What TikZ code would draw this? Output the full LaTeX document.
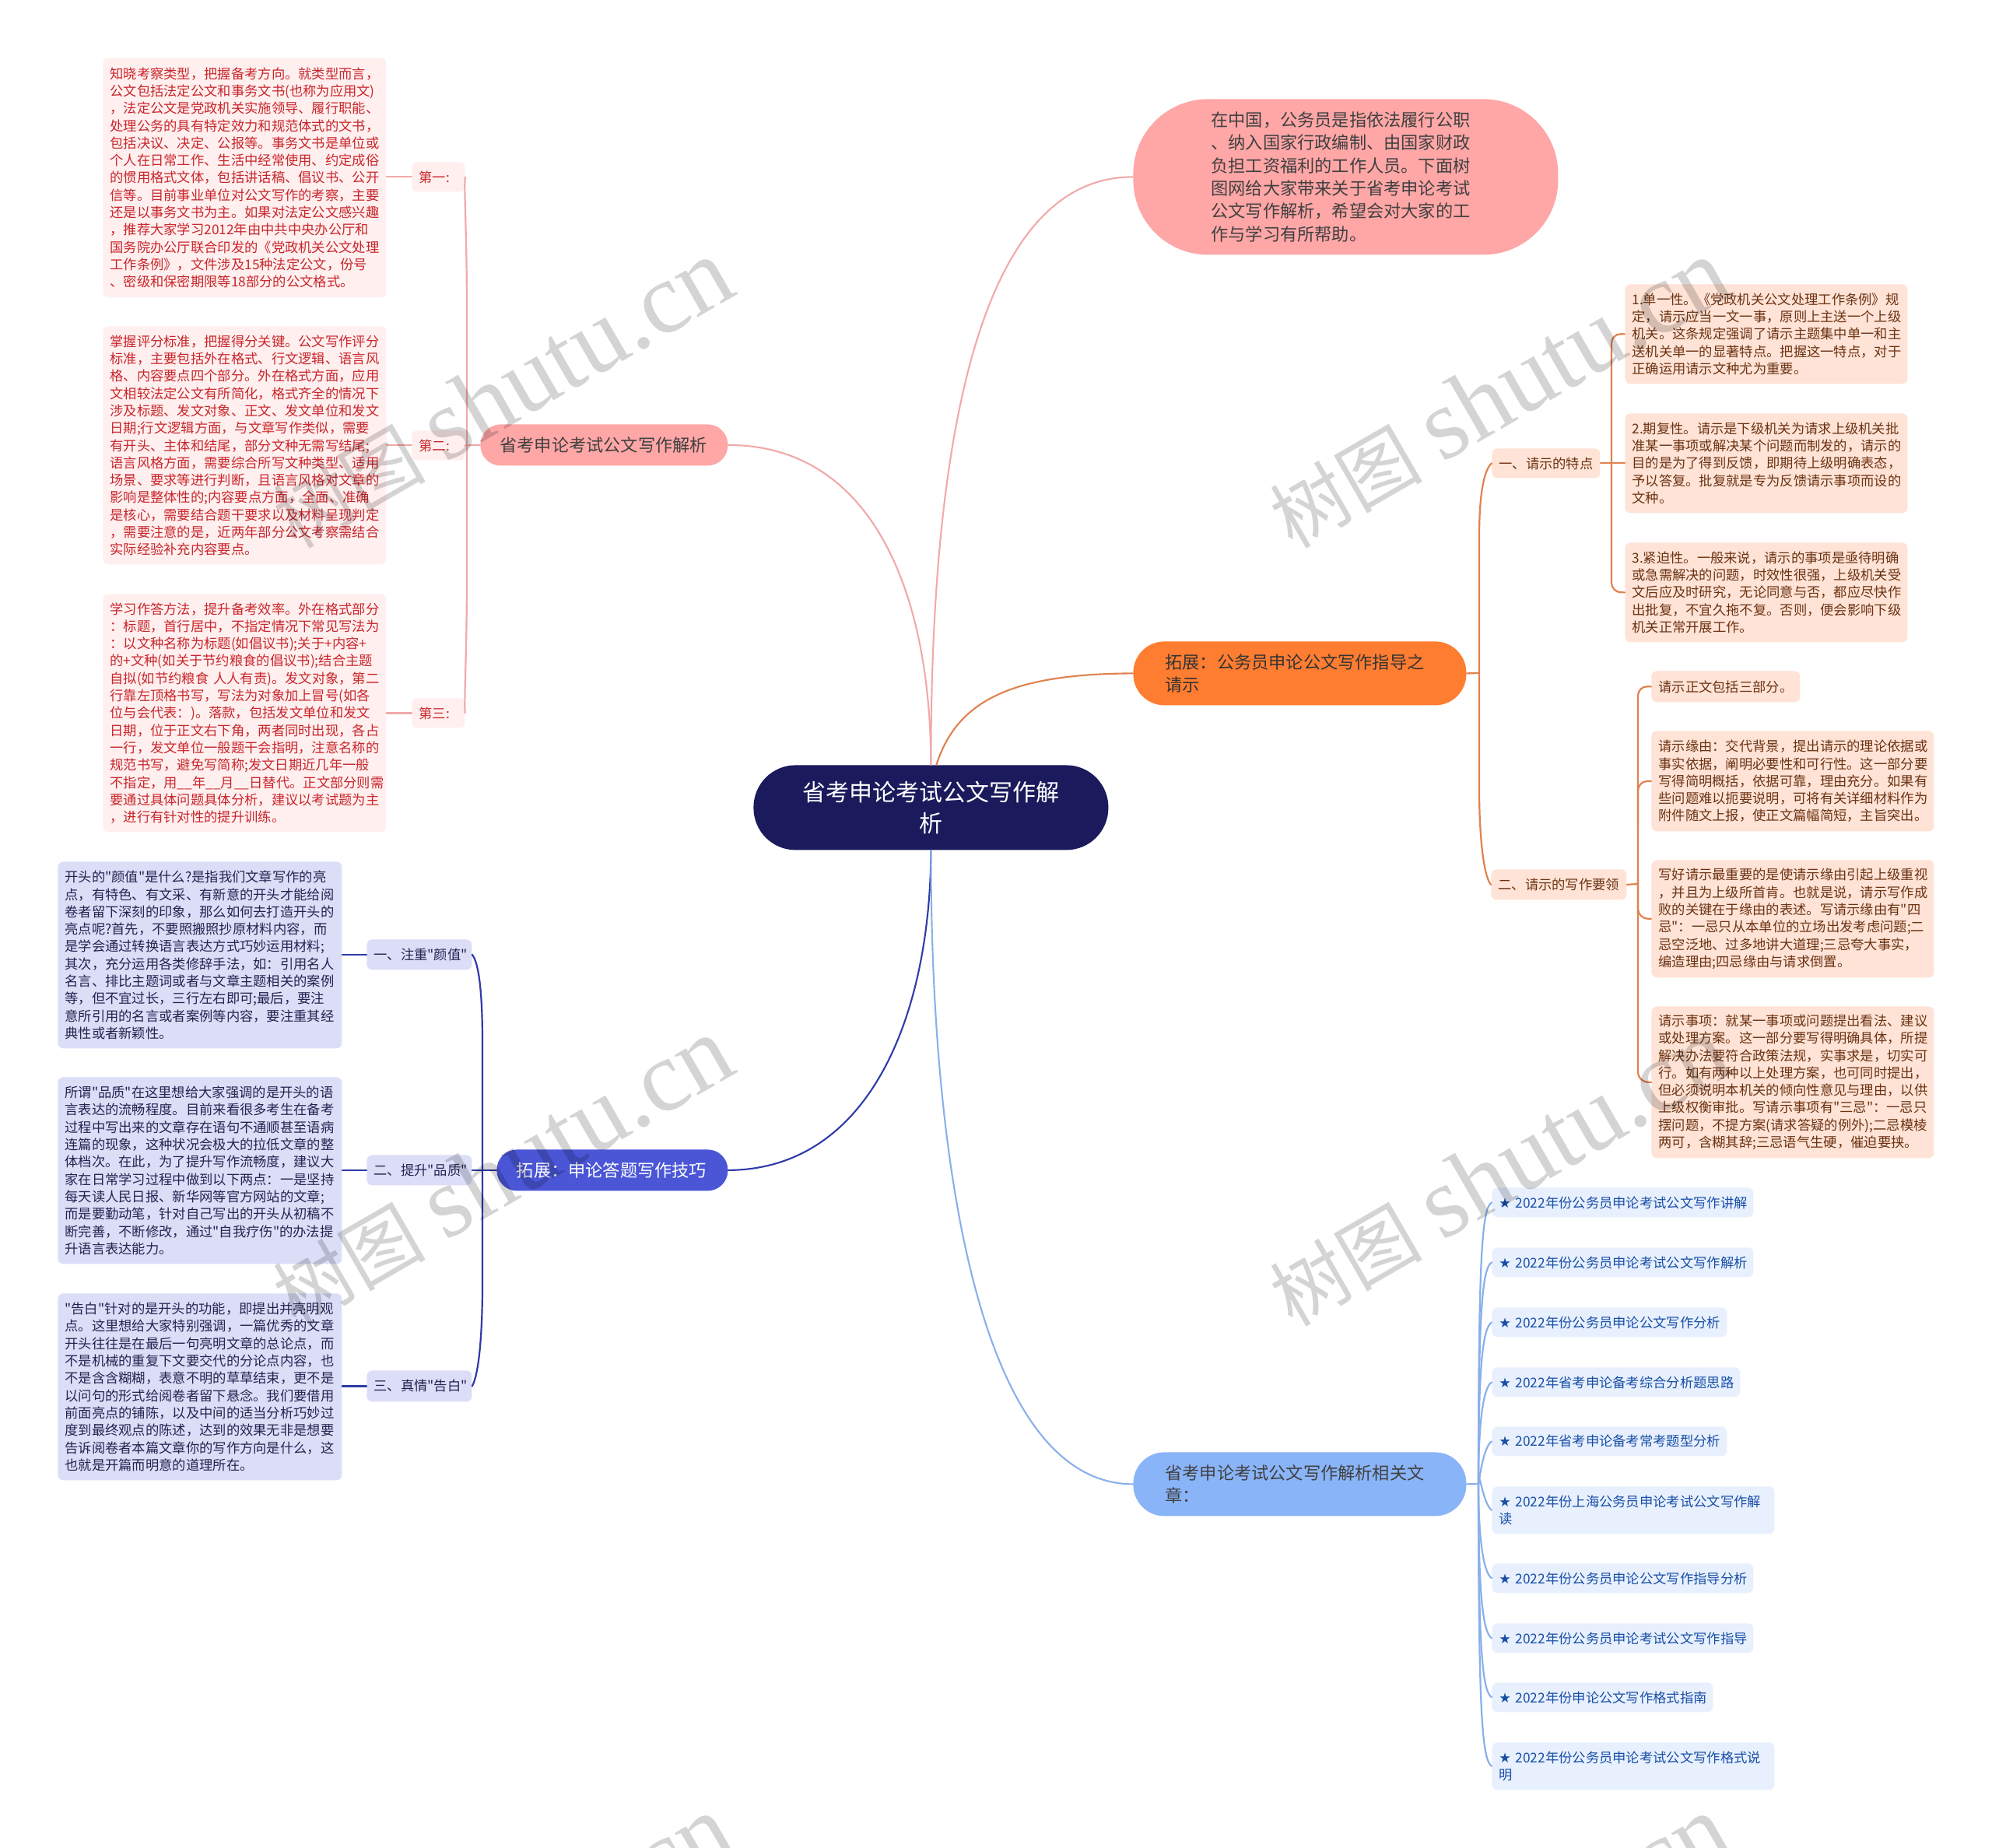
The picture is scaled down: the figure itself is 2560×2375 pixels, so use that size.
\documentclass[tikz,border=0pt]{standalone}
\usepackage{fontspec}
\setmainfont{Noto Sans CJK SC}[Ligatures=TeXOff]
\newfontfamily\wmcjk{Noto Sans CJK SC}
\newfontfamily\wmlat{Liberation Serif}
\newfontfamily\starfont{DejaVu Sans}
\usetikzlibrary{calc}
\definecolor{rootc}{HTML}{1A1A5C}
\definecolor{introc}{HTML}{FFA6A6}
\definecolor{pinkline}{HTML}{F2A9A9}
\definecolor{pinkbg}{HTML}{FFF0EF}
\definecolor{pinktx}{HTML}{C9252B}
\definecolor{navyb}{HTML}{4A56D6}
\definecolor{navyline}{HTML}{2F3BA8}
\definecolor{navybg}{HTML}{DCDEF8}
\definecolor{navytx}{HTML}{23234F}
\definecolor{orb}{HTML}{FF7D31}
\definecolor{orline}{HTML}{E0824F}
\definecolor{orbg}{HTML}{FFE3D6}
\definecolor{ortx}{HTML}{6B3212}
\definecolor{blb}{HTML}{8AB4F8}
\definecolor{blline}{HTML}{8AB0EA}
\definecolor{blbg}{HTML}{E8F0FE}
\definecolor{bltx}{HTML}{174EA6}
\tikzset{
  px/.style={x=0.5pt,y=-0.5pt},
  sz/.style 2 args={minimum width=#1*0.5pt,minimum height=#2*0.5pt,text width=(#1-18)*0.5pt},
  base/.style={anchor=north west,inner xsep=4.5pt,inner ysep=0pt,align=left,rounded corners=3.5pt},
  small/.style={font=\fontsize{8.65pt}{11.15pt}\selectfont},
  detailpink/.style={base,small,fill=pinkbg,text=pinktx},
  detailnavy/.style={base,small,fill=navybg,text=navytx},
  detailor/.style={base,small,fill=orbg,text=ortx},
  detailbl/.style={base,small,fill=blbg,text=bltx},
  roottx/.style={font=\fontsize{15pt}{20pt}\selectfont},
  midtx/.style={font=\fontsize{11.1pt}{14.7pt}\selectfont},
  lnk/.style={line width=1.1pt,line cap=round},
  lnkthin/.style={line width=1.05pt,line cap=round},
  wm/.style={rotate=30,anchor=center,text=black,opacity=0.17}
}
\newcommand{\wmtext}{{\fontsize{49pt}{60pt}\selectfont\wmcjk 树图}\hspace{13pt}{\fontsize{65pt}{60pt}\selectfont\wmlat shutu.cn}}
\newcommand{\stk}{{\starfont ★} }
\begin{document}
\begin{tikzpicture}[px]
\useasboundingbox (0,0) rectangle (2560,2375);
\clip (0,0) rectangle (2560,2375);
\fill[white] (0,0) rectangle (2560,2375);

% main nodes
\node[base,roottx,sz={456}{109},fill=rootc,text=white,align=center,rounded corners=27pt] (root) at (968,983) {省考申论考试公文写作解\\析};
\node[base,midtx,sz={546}{200},fill=introc,text=black!75,rounded corners=48pt,inner xsep=50pt,text width=173pt] (intro) at (1456,127) {在中国，公务员是指依法履行公职\\、纳入国家行政编制、由国家财政\\负担工资福利的工作人员。下面树\\图网给大家带来关于省考申论考试\\公文写作解析，希望会对大家的工\\作与学习有所帮助。};
\node[base,midtx,sz={318}{53},fill=introc,text=black!75,rounded corners=13pt,inner xsep=12.5pt,text width=134pt] (bp) at (617,545) {省考申论考试公文写作解析};
\node[base,midtx,sz={297}{53},fill=navyb,text=white,rounded corners=13pt,inner xsep=12.5pt,text width=123pt] (bn) at (638,1477) {拓展：申论答题写作技巧};
\node[base,midtx,sz={428}{82},fill=orb,text=black!80,rounded corners=20pt,inner xsep=20.5pt,text width=173pt] (bo) at (1456,824) {拓展：公务员申论公文写作指导之\\请示};
\node[base,midtx,sz={428}{82},fill=blb,text=black!75,rounded corners=20pt,inner xsep=20.5pt,text width=173pt] (bb) at (1456,1866) {省考申论考试公文写作解析相关文\\章：};

% pink details
\node[detailpink,sz={364}{308}] (p1) at (132,74) {知晓考察类型，把握备考方向。就类型而言，\\公文包括法定公文和事务文书(也称为应用文)\\，法定公文是党政机关实施领导、履行职能、\\处理公务的具有特定效力和规范体式的文书，\\包括决议、决定、公报等。事务文书是单位或\\个人在日常工作、生活中经常使用、约定成俗\\的惯用格式文体，包括讲话稿、倡议书、公开\\信等。目前事业单位对公文写作的考察，主要\\还是以事务文书为主。如果对法定公文感兴趣\\，推荐大家学习2012年由中共中央办公厅和\\国务院办公厅联合印发的《党政机关公文处理\\工作条例》，文件涉及15种法定公文，份号\\、密级和保密期限等18部分的公文格式。};
\node[detailpink,sz={364}{306}] (p2) at (132,419) {掌握评分标准，把握得分关键。公文写作评分\\标准，主要包括外在格式、行文逻辑、语言风\\格、内容要点四个部分。外在格式方面，应用\\文相较法定公文有所简化，格式齐全的情况下\\涉及标题、发文对象、正文、发文单位和发文\\日期;行文逻辑方面，与文章写作类似，需要\\有开头、主体和结尾，部分文种无需写结尾;\\语言风格方面，需要综合所写文种类型、适用\\场景、要求等进行判断，且语言风格对文章的\\影响是整体性的;内容要点方面，全面、准确\\是核心，需要结合题干要求以及材料呈现判定\\，需要注意的是，近两年部分公文考察需结合\\实际经验补充内容要点。};
\node[detailpink,sz={364}{306}] (p3) at (132,763) {学习作答方法，提升备考效率。外在格式部分\\：标题，首行居中，不指定情况下常见写法为\\：以文种名称为标题(如倡议书);关于+内容+\\的+文种(如关于节约粮食的倡议书);结合主题\\自拟(如节约粮食~人人有责)。发文对象，第二\\行靠左顶格书写，写法为对象加上冒号(如各\\位与会代表：)。落款，包括发文单位和发文\\日期，位于正文右下角，两者同时出现，各占\\一行，发文单位一般题干会指明，注意名称的\\规范书写，避免写简称;发文日期近几年一般\\不指定，用\_\_年\_\_月\_\_日替代。正文部分则需\\要通过具体问题具体分析，建议以考试题为主\\，进行有针对性的提升训练。};
\node[detailpink,sz={55}{38},inner xsep=4.5pt,text width=25pt,rounded corners=3pt] (l1) at (529,208) {第一:};
\node[detailpink,sz={55}{38},inner xsep=4.5pt,text width=25pt,rounded corners=3pt] (l2) at (529,553) {第二:};
\node[detailpink,sz={55}{38},inner xsep=4.5pt,text width=25pt,rounded corners=3pt] (l3) at (529,897) {第三:};

% navy details
\node[detailnavy,sz={365}{240}] (n1) at (74,1107) {开头的"颜值"是什么?是指我们文章写作的亮\\点，有特色、有文采、有新意的开头才能给阅\\卷者留下深刻的印象，那么如何去打造开头的\\亮点呢?首先，不要照搬照抄原材料内容，而\\是学会通过转换语言表达方式巧妙运用材料;\\其次，充分运用各类修辞手法，如：引用名人\\名言、排比主题词或者与文章主题相关的案例\\等，但不宜过长，三行左右即可;最后，要注\\意所引用的名言或者案例等内容，要注重其经\\典性或者新颖性。};
\node[detailnavy,sz={365}{240}] (n2) at (74,1384) {所谓"品质"在这里想给大家强调的是开头的语\\言表达的流畅程度。目前来看很多考生在备考\\过程中写出来的文章存在语句不通顺甚至语病\\连篇的现象，这种状况会极大的拉低文章的整\\体档次。在此，为了提升写作流畅度，建议大\\家在日常学习过程中做到以下两点：一是坚持\\每天读人民日报、新华网等官方网站的文章;\\而是要勤动笔，针对自己写出的开头从初稿不\\断完善，不断修改，通过"自我疗伤"的办法提\\升语言表达能力。};
\node[detailnavy,sz={365}{240}] (n3) at (74,1662) {"告白"针对的是开头的功能，即提出并亮明观\\点。这里想给大家特别强调，一篇优秀的文章\\开头往往是在最后一句亮明文章的总论点，而\\不是机械的重复下文要交代的分论点内容，也\\不是含含糊糊，表意不明的草草结束，更不是\\以问句的形式给阅卷者留下悬念。我们要借用\\前面亮点的铺陈，以及中间的适当分析巧妙过\\度到最终观点的陈述，达到的效果无非是想要\\告诉阅卷者本篇文章你的写作方向是什么，这\\也就是开篇而明意的道理所在。};
\node[detailnavy,sz={135}{39},text width=58.5pt] (m1) at (471,1207) {一、注重"颜值"};
\node[detailnavy,sz={135}{39},text width=58.5pt] (m2) at (471,1484) {二、提升"品质"};
\node[detailnavy,sz={135}{40},text width=58.5pt] (m3) at (471,1761) {三、真情"告白"};

% orange details
\node[detailor,sz={363}{128}] (o1) at (2088,365) {1.单一性。《党政机关公文处理工作条例》规\\定，请示应当一文一事，原则上主送一个上级\\机关。这条规定强调了请示主题集中单一和主\\送机关单一的显著特点。把握这一特点，对于\\正确运用请示文种尤为重要。};
\node[detailor,sz={363}{128}] (o2) at (2088,531) {2.期复性。请示是下级机关为请求上级机关批\\准某一事项或解决某个问题而制发的，请示的\\目的是为了得到反馈，即期待上级明确表态，\\予以答复。批复就是专为反馈请示事项而设的\\文种。};
\node[detailor,sz={363}{128}] (o3) at (2088,697) {3.紧迫性。一般来说，请示的事项是亟待明确\\或急需解决的问题，时效性很强，上级机关受\\文后应及时研究，无论同意与否，都应尽快作\\出批复，不宜久拖不复。否则，便会影响下级\\机关正常开展工作。};
\node[detailor,sz={138}{38},text width=60.5pt] (ol1) at (1917,576) {一、请示的特点};
\node[detailor,sz={173}{39},text width=78pt] (ol2) at (1916,1117) {二、请示的写作要领};
\node[detailor,sz={190}{40},text width=86.5pt] (q0) at (2122,862) {请示正文包括三部分。};
\node[detailor,sz={363}{129}] (q1) at (2122,939) {请示缘由：交代背景，提出请示的理论依据或\\事实依据，阐明必要性和可行性。这一部分要\\写得简明概括，依据可靠，理由充分。如果有\\些问题难以扼要说明，可将有关详细材料作为\\附件随文上报，使正文篇幅简短，主旨突出。};
\node[detailor,sz={363}{151}] (q2) at (2122,1105) {写好请示最重要的是使请示缘由引起上级重视\\，并且为上级所首肯。也就是说，请示写作成\\败的关键在于缘由的表述。写请示缘由有"四\\忌"：一忌只从本单位的立场出发考虑问题;二\\忌空泛地、过多地讲大道理;三忌夸大事实，\\编造理由;四忌缘由与请求倒置。};
\node[detailor,sz={363}{195}] (q3) at (2122,1293) {请示事项：就某一事项或问题提出看法、建议\\或处理方案。这一部分要写得明确具体，所提\\解决办法要符合政策法规，实事求是，切实可\\行。如有两种以上处理方案，也可同时提出，\\但必须说明本机关的倾向性意见与理由，以供\\上级权衡审批。写请示事项有"三忌"：一忌只\\摆问题，不提方案(请求答疑的例外);二忌模棱\\两可，含糊其辞;三忌语气生硬，催迫要挟。};

% blue items
\node[detailbl,sz={336}{38}] (b1) at (1917,1526) {\mbox{\stk 2022年份公务员申论考试公文写作讲解}};
\node[detailbl,sz={336}{38}] (b2) at (1917,1603) {\mbox{\stk 2022年份公务员申论考试公文写作解析}};
\node[detailbl,sz={302}{38}] (b3) at (1917,1680) {\mbox{\stk 2022年份公务员申论公文写作分析}};
\node[detailbl,sz={319}{38}] (b4) at (1917,1757) {\mbox{\stk 2022年省考申论备考综合分析题思路}};
\node[detailbl,sz={302}{38}] (b5) at (1917,1833) {\mbox{\stk 2022年省考申论备考常考题型分析}};
\node[detailbl,sz={363}{61}] (b6) at (1917,1910) {\mbox{\stk 2022年份上海公务员申论考试公文写作解}\\读};
\node[detailbl,sz={336}{38}] (b7) at (1917,2009) {\mbox{\stk 2022年份公务员申论公文写作指导分析}};
\node[detailbl,sz={336}{38}] (b8) at (1917,2086) {\mbox{\stk 2022年份公务员申论考试公文写作指导}};
\node[detailbl,sz={284}{38}] (b9) at (1917,2162) {\mbox{\stk 2022年份申论公文写作格式指南}};
\node[detailbl,sz={363}{61}] (b10) at (1917,2239) {\mbox{\stk 2022年份公务员申论考试公文写作格式说}\\明};

% connectors from the root
\draw[lnkthin,pinkline] (root.north) .. controls (1196,760) and (1120,572) .. (bp.east);
\draw[lnkthin,pinkline] (root.north) .. controls (1196,560) and (1260,227) .. (intro.west);
\draw[lnkthin,orline] ($(root.north)+(7,0)$) .. controls (1230,900) and (1300,866) .. (bo.west);
\draw[lnkthin,navyline] (root.south) .. controls (1196,1300) and (1120,1503) .. (bn.east);
\draw[lnkthin,blline] (root.south) .. controls (1196,1500) and (1260,1907) .. (bb.west);

% pink tree
\draw[lnk,pinkline] (l1.east) .. controls (596,240) and (600,300) .. (600,400) -- (600,740) .. controls (600,840) and (596,905) .. (l3.east);
\draw[lnk,pinkline] (bp.west) -- (l2.east);
\draw[lnk,pinkline] (l1.west) -- (p1.east |- l1.west);
\draw[lnk,pinkline] (l2.west) -- (p2.east |- l2.west);
\draw[lnk,pinkline] (l3.west) -- (p3.east |- l3.west);

% navy tree
\draw[lnk,navyline] (m1.east) .. controls (616,1238) and (620,1280) .. (620,1340) -- (620,1650) .. controls (620,1710) and (616,1765) .. (m3.east);
\draw[lnk,navyline] (bn.west) -- (m2.east);
\draw[lnk,navyline] (m1.west) -- (n1.east |- m1.west);
\draw[lnk,navyline] (m2.west) -- (n2.east |- m2.west);
\draw[lnk,navyline] (m3.west) -- (n3.east |- m3.west);

% orange tree
\draw[lnk,orline] (bo.east) -- (1901,865);
\draw[lnk,orline] (ol1.west) .. controls (1906,605) and (1901,640) .. (1901,690) -- (1901,1015) .. controls (1901,1070) and (1906,1125) .. (ol2.west);
\draw[lnk,orline] (ol1.east) -- (o2.west);
\draw[lnk,orline,rounded corners=6pt] (o1.west) -- (2071,429) -- (2071,761) -- (o3.west);
\draw[lnk,orline] (ol2.east) -- (2105,1136);
\draw[lnk,orline,rounded corners=6pt] (q0.west) -- (2105,882) -- (2105,1390) -- (q3.west);
\draw[lnk,orline,rounded corners=6pt] (q1.west) -- (2105,1004) -- (2105,1060);
\draw[lnk,orline,rounded corners=6pt] (q2.west) -- (2105,1180) -- (2105,1130);

% blue tree
\draw[lnk,blline] (bb.east) -- (1900,1907);
\foreach \n/\yy in {b1/1545,b2/1622,b3/1699,b4/1776,b5/1852}{
  \draw[lnk,blline] (\n.west) .. controls (1905,\yy+8) and (1900,\yy+60) .. (1900,1907);
}
\foreach \n/\yy in {b6/1940,b7/2028,b8/2105,b9/2181,b10/2269}{
  \draw[lnk,blline] (\n.west) .. controls (1905,\yy-8) and (1900,\yy-60) .. (1900,1907);
}

% watermarks
\foreach \dx/\dy in {0/0,1281/0,0/1000,1281/1000,0/2000,1281/2000}{
  \node[wm] at ($(645,506)+(\dx,\dy)$) {\wmtext};
}
\end{tikzpicture}
\end{document}
